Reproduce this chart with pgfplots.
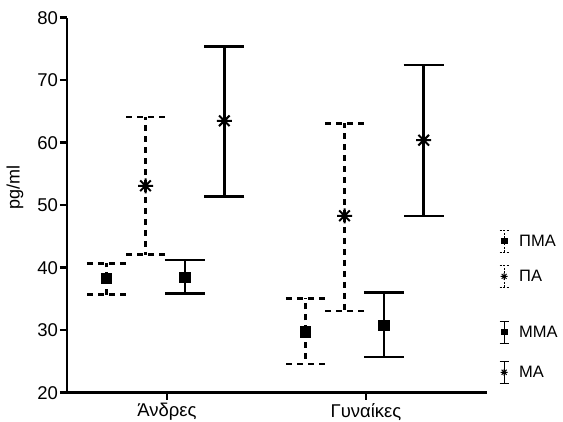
\documentclass[border=0pt]{standalone}
\usepackage{fontspec}
\setmainfont{Liberation Sans}
\usepackage{pgfplots}
\pgfplotsset{compat=1.18}
\usepackage{pgfplotstable}

% eight-armed asterisk
\pgfdeclareplotmark{ast8}{%
  \pgfpathmoveto{\pgfqpoint{0pt}{\pgfplotmarksize}}%
  \pgfpathlineto{\pgfqpoint{0pt}{-\pgfplotmarksize}}%
  \pgfpathmoveto{\pgfqpoint{\pgfplotmarksize}{0pt}}%
  \pgfpathlineto{\pgfqpoint{-\pgfplotmarksize}{0pt}}%
  \pgfpathmoveto{\pgfqpoint{0.7071\pgfplotmarksize}{0.7071\pgfplotmarksize}}%
  \pgfpathlineto{\pgfqpoint{-0.7071\pgfplotmarksize}{-0.7071\pgfplotmarksize}}%
  \pgfpathmoveto{\pgfqpoint{-0.7071\pgfplotmarksize}{0.7071\pgfplotmarksize}}%
  \pgfpathlineto{\pgfqpoint{0.7071\pgfplotmarksize}{-0.7071\pgfplotmarksize}}%
  \pgfusepathqstroke}

% x = category position (0 = Άνδρες, 1 = Γυναίκες) plus offset
\pgfplotstableread{
x y ep em
-0.305 38.3 2.4 2.6
0.695 29.8 5.3 5.2
}\PMA
\pgfplotstableread{
x y ep em
-0.108 53.1 11.0 11.0
0.892 48.3 14.8 15.2
}\PA
\pgfplotstableread{
x y ep em
0.090 38.5 2.7 2.6
1.090 30.8 5.2 5.1
}\MMA
\pgfplotstableread{
x y ep em
0.288 63.5 11.9 12.1
1.290 60.4 12.0 12.1
}\MA

\pgfplotsset{
  dashedbars/.style={error bars/.cd, y dir=both, y explicit,
    error bar style={line width=2.5pt, dash pattern=on 6pt off 5pt},
    error mark options={rotate=90, mark size=19.5pt, line width=2.5pt, dash pattern=on 6pt off 5pt}},
  solidbars/.style={error bars/.cd, y dir=both, y explicit,
    error bar style={line width=2.5pt, solid},
    error mark options={rotate=90, mark size=20pt, line width=2.5pt, solid}},
  geom/.style={at={(67pt,29.3pt)}, anchor=south west,
    scale only axis, width=420pt, height=375pt,
    xmin=-0.5025, xmax=1.608, ymin=20, ymax=80},
  legbase/.style={legend style={draw=none, fill=none, inner sep=0pt, outer sep=0pt,
    column sep=10pt, font=\fontsize{16.5}{19}\selectfont,
    nodes={inner sep=0pt, outer sep=0pt}}, legend cell align=left},
}

\begin{document}
\begin{tikzpicture}
\useasboundingbox (0pt,0pt) rectangle (563pt,422pt);
\begin{axis}[geom, legbase,
  axis lines*=left,
  axis line style={line width=2.5pt, black},
  tick align=outside, major tick length=7pt,
  tick style={line width=2.5pt, black},
  ytick={20,30,...,80},
  xtick={0,1}, xticklabels={Άνδρες,Γυναίκες},
  every tick label/.append style={font=\fontsize{18.5}{21}\selectfont},
  yticklabel style={xshift=1.5pt},
  /pgf/number format/assume math mode=true,
  ylabel={pg/ml},
  every axis y label/.style={at={(axis description cs:-0.124,0.546)}, rotate=90, anchor=center, font=\fontsize{18}{21}\selectfont},
  clip=false,
  legend style={at={(axis description cs:1.0286,0.435)}, anchor=north west, row sep=12pt},
]
\addplot[only marks, mark=square*, mark size=5.3pt, black, forget plot, dashedbars]
  table[x=x, y=y, y error plus=ep, y error minus=em]{\PMA};
\addplot[only marks, mark=ast8, mark size=7.5pt, black, mark options={line width=2pt}, forget plot, dashedbars]
  table[x=x, y=y, y error plus=ep, y error minus=em]{\PA};
\addplot[only marks, mark=square*, mark size=5.3pt, black, forget plot, solidbars]
  table[x=x, y=y, y error plus=ep, y error minus=em]{\MMA};
\addplot[only marks, mark=ast8, mark size=7.5pt, black, mark options={line width=2pt}, forget plot, solidbars]
  table[x=x, y=y, y error plus=ep, y error minus=em]{\MA};

\addlegendimage{legend image code/.code={
  \draw[line width=1.2pt, dash pattern=on 2pt off 1.5pt] (0pt,-11pt) -- (0pt,11pt);
  \draw[line width=1.2pt, dash pattern=on 2pt off 1.5pt] (-4.5pt,-11pt) -- (4.5pt,-11pt) (-4.5pt,11pt) -- (4.5pt,11pt);
  \fill (-2.7pt,-2.5pt) rectangle (2.7pt,2.5pt);
}}
\addlegendentry{ΠΜΑ}
\addlegendimage{legend image code/.code={
  \draw[line width=1.2pt, dash pattern=on 2pt off 1.5pt] (0pt,-11pt) -- (0pt,11pt);
  \draw[line width=1.2pt, dash pattern=on 2pt off 1.5pt] (-4.5pt,-11pt) -- (4.5pt,-11pt) (-4.5pt,11pt) -- (4.5pt,11pt);
  \draw plot[only marks, mark=ast8, mark size=3.5pt, mark options={line width=1pt}] coordinates {(0pt,0pt)};
}}
\addlegendentry{ΠΑ}
\end{axis}
\begin{axis}[geom, legbase, hide axis,
  legend style={at={(axis description cs:1.0286,0.1925)}, anchor=north west, row sep=17pt},
]
\addlegendimage{legend image code/.code={
  \draw[line width=1.2pt] (0pt,-11pt) -- (0pt,11pt);
  \draw[line width=1.2pt] (-4.5pt,-11pt) -- (4.5pt,-11pt) (-4.5pt,11pt) -- (4.5pt,11pt);
  \fill (-2.7pt,-2.5pt) rectangle (2.7pt,2.5pt);
}}
\addlegendentry{ΜΜΑ}
\addlegendimage{legend image code/.code={
  \draw[line width=1.2pt] (0pt,-11pt) -- (0pt,11pt);
  \draw[line width=1.2pt] (-4.5pt,-11pt) -- (4.5pt,-11pt) (-4.5pt,11pt) -- (4.5pt,11pt);
  \draw plot[only marks, mark=ast8, mark size=3.5pt, mark options={line width=1pt}] coordinates {(0pt,0pt)};
}}
\addlegendentry{ΜΑ}
\end{axis}
\end{tikzpicture}
\end{document}
